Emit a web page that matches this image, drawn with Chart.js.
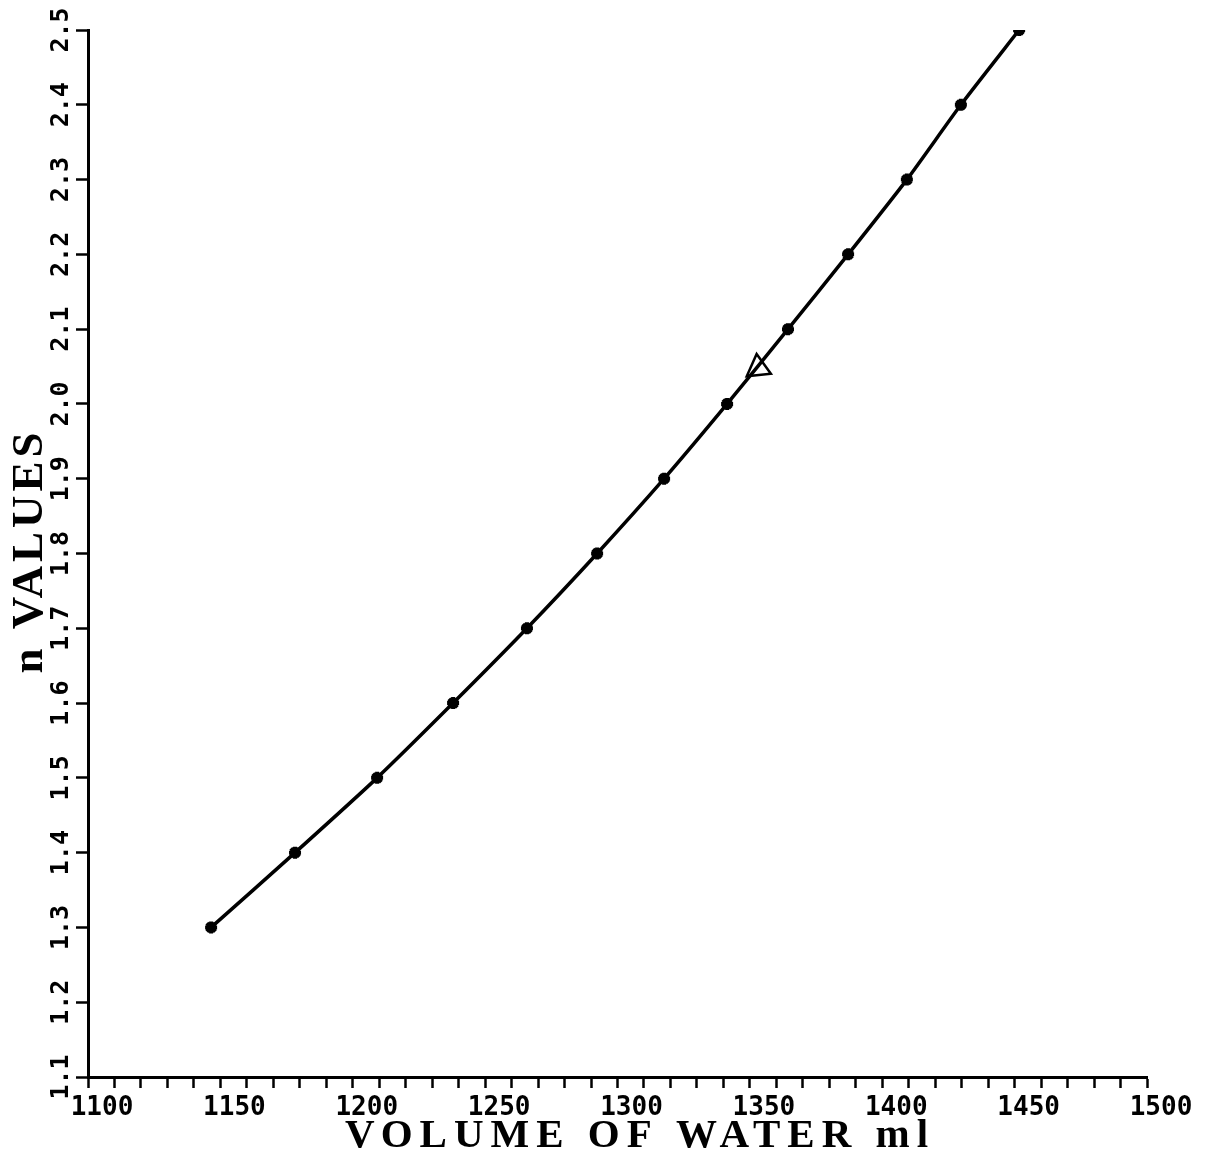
<!DOCTYPE html>
<html lang="en">
<head>
  <meta charset="UTF-8" />
  <title>n values vs volume of water</title>
  <script src="https://cdn.jsdelivr.net/npm/chart.js"></script>
  <style>
    html, body { margin: 0; padding: 0; background: #fff; }
    #wrap { width: 1209px; height: 1165px; }
  </style>
</head>
<body>
  <div id="wrap"><canvas id="grafico" width="1209" height="1165"></canvas></div>

  <script>
    // volume of water (ml) and the matching n value
    const volumes = [1146.5, 1178.2, 1209.2, 1237.9, 1265.8, 1292.3, 1317.6,
                     1341.4, 1364.4, 1387.1, 1409.3, 1429.7, 1451.7];
    const nValues = [1.3, 1.4, 1.5, 1.6, 1.7, 1.8, 1.9, 2.0, 2.1, 2.2, 2.3, 2.4, 2.5];

    // single marked point on the curve
    const markVolume = [1353.1];
    const markN = [2.048];

    const xTitle = 'VOLUME OF WATER ml';
    const yTitle = 'n VALUES';

    // axis titles drawn with letter spacing, like the typed originals
    const axisTitles = {
      id: 'axisTitles',
      afterDraw(chart) {
        const ctx = chart.ctx;
        ctx.save();
        ctx.fillStyle = '#000';
        ctx.textAlign = 'center';
        ctx.textBaseline = 'alphabetic';

        ctx.font = 'bold 41px "Liberation Serif"';
        ctx.letterSpacing = '7px';
        ctx.fillText(xTitle, 640, 1147);

        ctx.translate(42, 551);
        ctx.rotate(-Math.PI / 2);
        ctx.font = 'bold 45px "Liberation Serif"';
        ctx.letterSpacing = '4px';
        ctx.fillText(yTitle, 0, 0);
        ctx.restore();
      }
    };

    new Chart(document.getElementById('grafico'), {
      type: 'scatter',
      data: {
        datasets: [{
          data: volumes.map((v, i) => ({ x: v, y: nValues[i] })),
          showLine: true,
          borderColor: '#000',
          borderWidth: 3.5,
          tension: 0.2,
          pointStyle: 'star',
          pointRadius: 6,
          pointBorderWidth: 4,
          pointBackgroundColor: '#000',
          pointBorderColor: '#000'
        }, {
          data: markVolume.map((v, i) => ({ x: v, y: markN[i] })),
          pointStyle: 'triangle',
          pointRadius: 14,
          pointRotation: -6,
          pointBorderWidth: 2.5,
          pointBackgroundColor: 'rgba(255,255,255,0)',
          pointBorderColor: '#000'
        }]
      },
      options: {
        responsive: false,
        animation: false,
        layout: { padding: { top: 30, right: 62, left: 0, bottom: 0 } },
        plugins: {
          legend: { display: false },
          tooltip: { enabled: false }
        },
        scales: {
          x: {
            type: 'linear',
            min: 1100,
            max: 1500,
            afterFit(scale) { scale.height = 88; },
            border: { color: '#000', width: 3 },
            grid: { drawOnChartArea: false, drawTicks: true, tickLength: 11, tickColor: '#000', tickWidth: 2.5 },
            ticks: {
              stepSize: 10,
              autoSkip: false,
              maxRotation: 0,
              labelOffset: 14,
              padding: 5,
              color: '#000',
              font: { family: '"DejaVu Sans Mono"', size: 26, weight: 'bold' },
              callback: v => (v % 50 === 0 ? String(v) : '')
            }
          },
          y: {
            type: 'linear',
            min: 1.1,
            max: 2.5,
            afterFit(scale) { scale.width = 88; },
            border: { color: '#000', width: 3 },
            grid: { drawOnChartArea: false, drawTicks: true, tickLength: 12, tickColor: '#000', tickWidth: 2.5 },
            ticks: {
              stepSize: 0.1,
              autoSkip: false,
              minRotation: 90,
              maxRotation: 90,
              crossAlign: 'center',
              padding: -8,
              color: '#000',
              font: { family: '"DejaVu Sans Mono"', size: 25, weight: 'bold' },
              callback: v => v.toFixed(1)
            }
          }
        }
      },
      plugins: [axisTitles]
    });
  </script>
</body>
</html>
